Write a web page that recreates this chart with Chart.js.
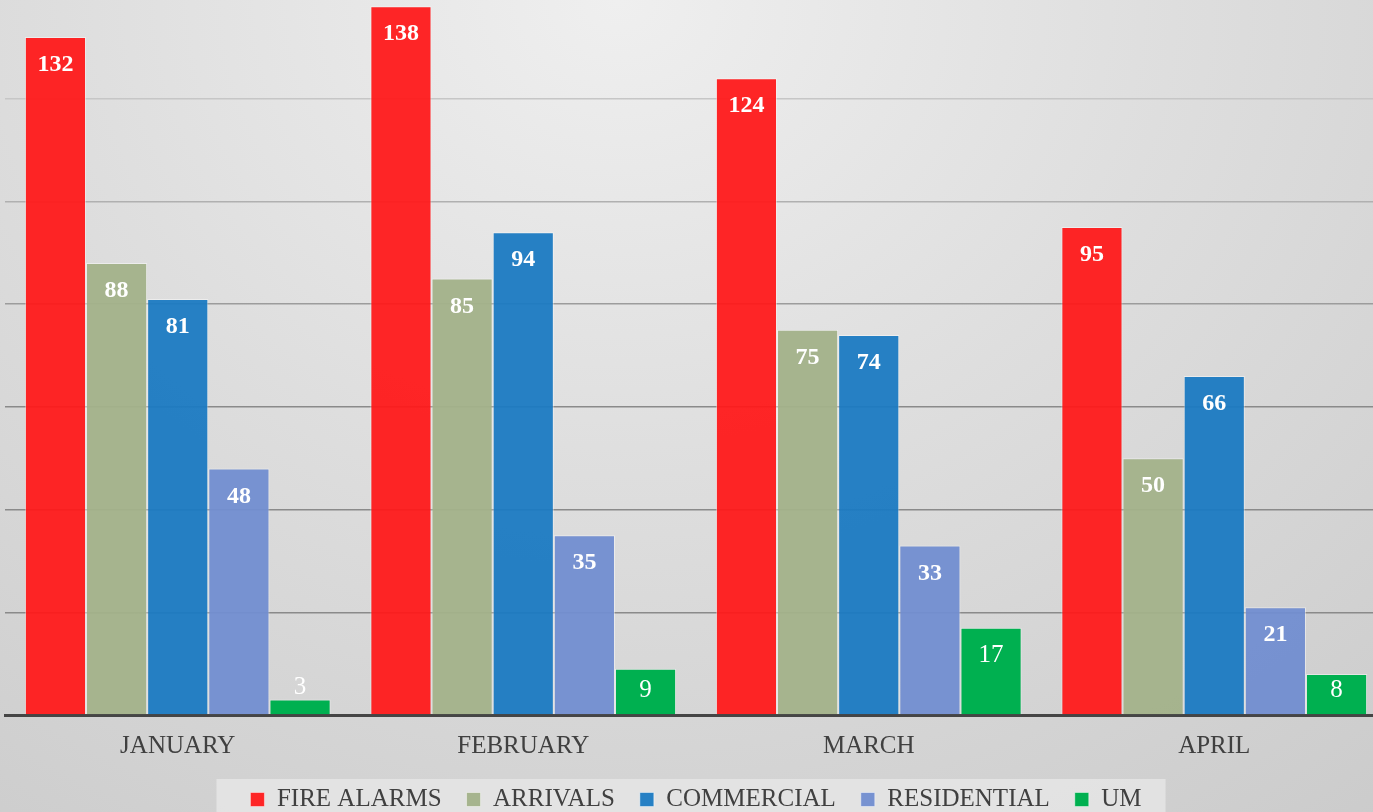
<!DOCTYPE html>
<html>
<head>
<meta charset="utf-8">
<script src="https://cdn.jsdelivr.net/npm/chart.js@4.4.1/dist/chart.umd.min.js"></script>
<style>
  html, body { margin: 0; padding: 0; overflow: hidden; width: 1373px; height: 812px; }
  body { background: radial-gradient(ellipse 90% 130% at 45% 0%, #efefef 0%, #dedede 45%, #cbcbcb 100%); position: relative; }
  #wrap { position: absolute; left: 0; top: -4px; width: 1390px; height: 826px; }
</style>
</head>
<body>
<div id="wrap"><canvas id="chart"></canvas></div>
<script>
// --- data ---
const months = ['JANUARY', 'FEBRUARY', 'MARCH', 'APRIL'];
const fireAlarms = [132, 138, 124, 95];
const arrivals = [88, 85, 75, 50];
const commercial = [81, 94, 74, 66];
const residential = [48, 35, 33, 21];
const um = [3, 9, 17, 8];

const SERIF = '"Liberation Serif", "DejaVu Serif", serif';

// value labels, drawn on top of each bar
const barLabels = {
    id: 'barLabels',
    afterDatasetsDraw(chart) {
        const ctx = chart.ctx;
        ctx.save();
        ctx.fillStyle = '#ffffff';
        ctx.textAlign = 'center';
        ctx.textBaseline = 'middle';
        chart.data.datasets.forEach((ds, di) => {
            const meta = chart.getDatasetMeta(di);
            const isUm = ds.label === 'UM';
            ctx.font = (isUm ? '25px ' : 'bold 24px ') + SERIF;
            meta.data.forEach((bar, i) => {
                const h = bar.base - bar.y;
                let y;
                if (h < 30) y = bar.y - 12;
                else y = bar.y + Math.min(28, h - 24);
                ctx.fillText(String(ds.data[i]), bar.x, y);
            });
        });
        ctx.restore();
    }
};

// light panel behind the legend
const legendPanel = {
    id: 'legendPanel',
    beforeDraw(chart) {
        const lg = chart.legend;
        if (!lg || !lg.legendHitBoxes || !lg.legendHitBoxes.length) return;
        const hb = lg.legendHitBoxes;
        const left = Math.min(...hb.map(b => b.left)) - 34;
        const right = Math.max(...hb.map(b => b.left + b.width)) + 24;
        const ctx = chart.ctx;
        ctx.save();
        ctx.fillStyle = 'rgba(232,232,232,0.75)';
        ctx.fillRect(left, hb[0].top - 8, right - left, 80);
        ctx.restore();
    }
};

function gridColor(v) {
    if (v <= 0) return 'rgba(0,0,0,0)';
    if (v <= 60) return '#8a8a8a';
    if (v <= 80) return '#9c9c9c';
    if (v <= 100) return '#b0b0b0';
    return '#c6c6c6';
}

const barBorder = 'rgba(255,255,255,0.45)';

new Chart(document.getElementById('chart'), {
    type: 'bar',
    data: {
        labels: months,
        datasets: [
            { label: 'FIRE ALARMS', data: fireAlarms, backgroundColor: 'rgba(255,24,26,0.94)' },
            { label: 'ARRIVALS', data: arrivals, backgroundColor: 'rgba(163,178,138,0.96)' },
            { label: 'COMMERCIAL', data: commercial, backgroundColor: 'rgba(27,122,194,0.95)' },
            { label: 'RESIDENTIAL', data: residential, backgroundColor: 'rgba(114,143,208,0.96)' },
            { label: 'UM', data: um, backgroundColor: 'rgba(0,176,80,1)' }
        ].map(d => Object.assign(d, {
            borderColor: barBorder,
            borderWidth: 1,
            categoryPercentage: 0.885,
            barPercentage: 1
        }))
    },
    options: {
        responsive: true,
        maintainAspectRatio: false,
        animation: false,
        layout: { padding: { left: 5, right: 3, top: 0, bottom: 0 } },
        plugins: {
            tooltip: { enabled: false },
            legend: {
                position: 'bottom',
                labels: {
                    font: { family: SERIF, size: 25 },
                    color: '#404040',
                    boxWidth: 14,
                    boxHeight: 14,
                    padding: 25
                }
            }
        },
        scales: {
            x: {
                grid: { display: false },
                border: { display: true, color: '#454545', width: 3 },
                ticks: { font: { family: SERIF, size: 25 }, color: '#404040', padding: 8 },
                afterFit: s => { s.height -= 7; }
            },
            y: {
                min: 0,
                max: 140,
                ticks: { display: false, stepSize: 20 },
                border: { display: false },
                grid: {
                    drawTicks: false,
                    lineWidth: 1.5,
                    color: c => gridColor(c.tick.value)
                }
            }
        }
    },
    plugins: [legendPanel, barLabels]
});
</script>
</body>
</html>
